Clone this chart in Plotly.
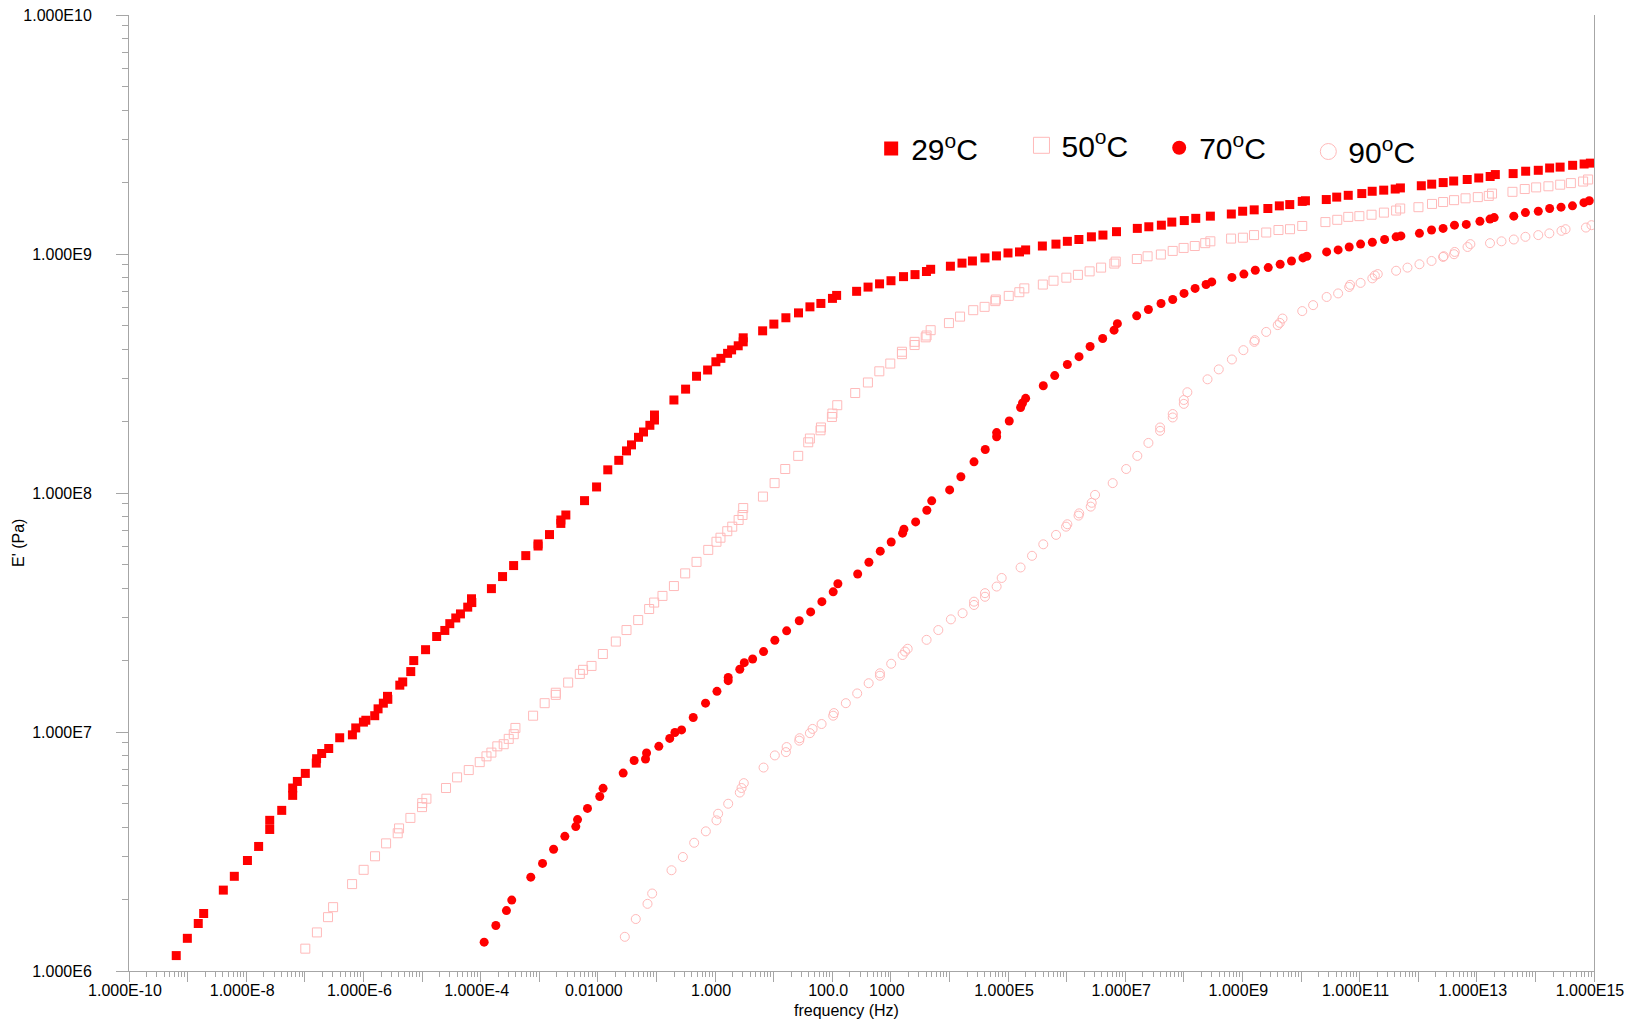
import plotly.graph_objects as go

# ---------------- data (frequency in Hz, storage modulus E' in Pa) ----------------
freq_29 = [
    6.4e-10, 9.9e-10, 1.52e-9, 1.88e-9, 4.07e-9, 6.27e-9, 1.05e-8, 1.63e-8, 2.52e-8, 2.52e-8,
    4.04e-8, 6.21e-8, 6.21e-8, 7.46e-8, 1.02e-7, 1.57e-7, 1.59e-7, 1.94e-7, 2.56e-7, 3.94e-7,
    6.49e-7, 7.40e-7, 1.00e-6, 1.10e-6, 1.56e-6, 1.78e-6, 2.19e-6, 2.61e-6, 2.58e-6, 4.18e-6,
    4.69e-6, 6.43e-6, 7.23e-6, 1.15e-5, 1.78e-5, 2.45e-5, 2.98e-5, 3.77e-5, 4.53e-5, 6.03e-5,
    7.08e-5, 7.00e-5, 1.53e-4, 2.37e-4, 3.66e-4, 5.90e-4, 9.57e-4, 9.57e-4, 1.50e-3, 2.34e-3,
    2.34e-3, 2.85e-3, 5.94e-3, 9.53e-3, 1.48e-2, 2.28e-2, 3.09e-2, 3.76e-2, 4.95e-2, 6.03e-2,
    7.74e-2, 9.27e-2, 9.27e-2, 0.199, 0.315, 0.484, 0.748, 1.035, 1.26, 1.64,
    1.92, 2.49, 3.03, 3.03, 6.50, 10.1, 16.2, 26.6, 41.7, 64.1,
    101, 119, 261, 409, 643, 1007, 1650, 2590, 4060, 4790,
    1.04e4, 1.64e4, 2.47e4, 4.05e4, 6.35e4, 1.00e5, 1.57e5, 2.00e5, 3.86e5, 6.58e5,
    1.03e6, 1.62e6, 2.65e6, 4.17e6, 7.10e6, 1.61e7, 2.53e7, 4.14e7, 6.24e7, 1.02e8,
    1.60e8, 2.84e8, 6.47e8, 1.01e9, 1.59e9, 2.72e9, 4.27e9, 6.43e9, 1.05e10, 1.19e10,
    2.70e10, 4.07e10, 6.40e10, 1.09e11, 1.64e11, 2.58e11, 4.05e11, 4.97e11, 1.13e12, 1.70e12,
    2.67e12, 4.03e12, 6.86e12, 1.08e13, 1.69e13, 2.07e13, 4.17e13, 6.82e13, 1.12e14, 1.75e14,
    2.64e14, 4.32e14, 6.78e14, 8.67e14,
]
modulus_29 = [
    1.16e6, 1.37e6, 1.58e6, 1.74e6, 2.18e6, 2.49e6, 2.90e6, 3.32e6, 3.91e6, 4.27e6,
    4.70e6, 5.43e6, 5.83e6, 6.21e6, 6.71e6, 7.41e6, 7.73e6, 8.13e6, 8.53e6, 9.46e6,
    9.73e6, 1.04e7, 1.10e7, 1.12e7, 1.17e7, 1.25e7, 1.32e7, 1.37e7, 1.41e7, 1.57e7,
    1.62e7, 1.79e7, 1.99e7, 2.21e7, 2.51e7, 2.66e7, 2.84e7, 3.00e7, 3.12e7, 3.33e7,
    3.48e7, 3.61e7, 3.98e7, 4.47e7, 4.97e7, 5.47e7, 6.00e7, 6.12e7, 6.70e7, 7.46e7,
    7.71e7, 8.09e7, 9.29e7, 1.06e8, 1.25e8, 1.37e8, 1.50e8, 1.59e8, 1.71e8, 1.80e8,
    1.92e8, 2.02e8, 2.12e8, 2.45e8, 2.72e8, 3.08e8, 3.27e8, 3.54e8, 3.66e8, 3.84e8,
    3.97e8, 4.13e8, 4.29e8, 4.46e8, 4.77e8, 5.09e8, 5.41e8, 5.67e8, 6.01e8, 6.21e8,
    6.52e8, 6.71e8, 6.98e8, 7.27e8, 7.50e8, 7.73e8, 8.04e8, 8.20e8, 8.45e8, 8.63e8,
    8.89e8, 9.16e8, 9.35e8, 9.63e8, 9.82e8, 1.01e9, 1.02e9, 1.04e9, 1.08e9, 1.10e9,
    1.13e9, 1.15e9, 1.18e9, 1.20e9, 1.24e9, 1.28e9, 1.30e9, 1.32e9, 1.36e9, 1.38e9,
    1.41e9, 1.44e9, 1.47e9, 1.51e9, 1.53e9, 1.55e9, 1.59e9, 1.61e9, 1.66e9, 1.67e9,
    1.69e9, 1.73e9, 1.76e9, 1.79e9, 1.83e9, 1.85e9, 1.87e9, 1.89e9, 1.93e9, 1.96e9,
    1.99e9, 2.02e9, 2.05e9, 2.08e9, 2.11e9, 2.15e9, 2.17e9, 2.22e9, 2.24e9, 2.29e9,
    2.31e9, 2.35e9, 2.38e9, 2.40e9,
]

freq_50 = [
    1.02e-7, 1.61e-7, 2.49e-7, 3.04e-7, 6.41e-7, 1.01e-6, 1.58e-6, 2.44e-6, 3.85e-6, 4.06e-6,
    6.34e-6, 1.00e-5, 1.01e-5, 1.19e-5, 2.57e-5, 3.97e-5, 6.28e-5, 9.66e-5, 1.26e-4, 1.53e-4,
    1.93e-4, 2.48e-4, 3.02e-4, 3.68e-4, 3.93e-4, 7.87e-4, 1.24e-3, 1.92e-3, 1.92e-3, 3.12e-3,
    4.93e-3, 5.61e-3, 7.82e-3, 1.22e-2, 2.03e-2, 3.09e-2, 4.89e-2, 7.52e-2, 9.16e-2, 0.127,
    0.199, 0.310, 0.484, 0.767, 1.06, 1.24, 1.62, 1.97, 2.53, 2.95,
    3.03, 6.58, 10.4, 15.8, 26.3, 39.0, 41.6, 63.2, 64.3, 98.9,
    101, 122, 247, 407, 637, 980, 1550, 1550, 2550, 2550,
    3940, 4080, 4790, 9820, 1.52e4, 2.55e4, 3.99e4, 6.07e4, 6.20e4, 1.03e5,
    1.56e5, 1.90e5, 3.93e5, 5.98e5, 9.91e5, 1.56e6, 2.47e6, 3.88e6, 6.53e6, 6.90e6,
    1.58e7, 2.41e7, 4.06e7, 6.46e7, 9.93e7, 1.54e8, 2.32e8, 2.84e8, 6.41e8, 1.02e9,
    1.58e9, 2.55e9, 4.13e9, 6.49e9, 1.05e10, 2.61e10, 4.16e10, 6.41e10, 9.91e10, 1.60e11,
    2.60e11, 4.20e11, 4.93e11, 1.01e12, 1.72e12, 2.66e12, 4.09e12, 6.43e12, 1.04e13, 1.60e13,
    1.82e13, 4.06e13, 6.58e13, 1.03e14, 1.67e14, 2.65e14, 4.03e14, 6.52e14, 7.93e14,
]
modulus_50 = [
    1.24e6, 1.45e6, 1.68e6, 1.85e6, 2.31e6, 2.65e6, 3.02e6, 3.42e6, 3.77e6, 3.95e6,
    4.37e6, 4.85e6, 5.04e6, 5.26e6, 5.83e6, 6.46e6, 6.93e6, 7.48e6, 7.91e6, 8.20e6,
    8.71e6, 8.89e6, 9.36e6, 9.79e6, 1.04e7, 1.17e7, 1.32e7, 1.43e7, 1.46e7, 1.61e7,
    1.75e7, 1.82e7, 1.89e7, 2.12e7, 2.39e7, 2.67e7, 2.94e7, 3.27e7, 3.48e7, 3.71e7,
    4.08e7, 4.61e7, 5.15e7, 5.78e7, 6.25e7, 6.50e7, 6.92e7, 7.23e7, 7.71e7, 8.09e7,
    8.65e7, 9.66e7, 1.10e8, 1.26e8, 1.43e8, 1.63e8, 1.69e8, 1.83e8, 1.88e8, 2.08e8,
    2.15e8, 2.33e8, 2.62e8, 2.90e8, 3.23e8, 3.48e8, 3.81e8, 3.90e8, 4.16e8, 4.29e8,
    4.48e8, 4.56e8, 4.80e8, 5.14e8, 5.47e8, 5.82e8, 6.01e8, 6.35e8, 6.45e8, 6.68e8,
    6.92e8, 7.18e8, 7.45e8, 7.73e8, 7.96e8, 8.18e8, 8.46e8, 8.77e8, 9.12e8, 9.29e8,
    9.53e8, 9.78e8, 9.95e8, 1.03e9, 1.06e9, 1.08e9, 1.11e9, 1.13e9, 1.16e9, 1.17e9,
    1.20e9, 1.23e9, 1.26e9, 1.27e9, 1.31e9, 1.36e9, 1.39e9, 1.43e9, 1.44e9, 1.46e9,
    1.49e9, 1.52e9, 1.55e9, 1.57e9, 1.62e9, 1.65e9, 1.68e9, 1.71e9, 1.73e9, 1.75e9,
    1.79e9, 1.82e9, 1.87e9, 1.90e9, 1.92e9, 1.95e9, 1.98e9, 2.01e9, 2.05e9,
]

freq_70 = [
    1.15e-4, 1.82e-4, 2.76e-4, 3.40e-4, 7.18e-4, 1.14e-3, 1.76e-3, 2.74e-3, 4.21e-3, 4.51e-3,
    6.67e-3, 1.08e-2, 1.23e-2, 2.71e-2, 4.17e-2, 6.52e-2, 6.79e-2, 0.110, 0.169, 0.207,
    0.269, 0.425, 0.689, 1.08, 1.68, 1.68, 2.65, 3.16, 4.39, 6.74,
    10.5, 16.7, 27.4, 42.9, 66.7, 104, 125, 272, 423, 661,
    1016, 1590, 1675, 2655, 4120, 4990, 1.01e4, 1.57e4, 2.63e4, 4.09e4,
    6.40e4, 6.40e4, 1.05e5, 1.64e5, 1.77e5, 2.00e5, 4.00e5, 6.27e5, 1.03e6, 1.63e6,
    2.52e6, 4.13e6, 6.46e6, 7.36e6, 1.57e7, 2.49e7, 4.09e7, 6.47e7, 1.01e8, 1.56e8,
    2.40e8, 3.00e8, 6.62e8, 1.06e9, 1.66e9, 2.76e9, 4.41e9, 6.89e9, 1.08e10, 1.26e10,
    2.74e10, 4.30e10, 6.64e10, 1.04e11, 1.65e11, 2.67e11, 4.20e11, 5.07e11, 1.05e12, 1.69e12,
    2.66e12, 4.16e12, 6.62e12, 1.13e13, 1.68e13, 1.98e13, 4.28e13, 6.76e13, 1.12e14, 1.75e14,
    2.74e14, 4.29e14, 6.73e14, 8.30e14,
]
modulus_70 = [
    1.32e6, 1.55e6, 1.79e6, 1.98e6, 2.47e6, 2.82e6, 3.23e6, 3.66e6, 4.02e6, 4.30e6,
    4.79e6, 5.37e6, 5.81e6, 6.73e6, 7.60e6, 7.71e6, 8.17e6, 8.71e6, 9.40e6, 9.95e6,
    1.02e7, 1.15e7, 1.32e7, 1.48e7, 1.64e7, 1.69e7, 1.83e7, 1.95e7, 2.02e7, 2.17e7,
    2.42e7, 2.65e7, 2.92e7, 3.18e7, 3.51e7, 3.86e7, 4.17e7, 4.58e7, 5.13e7, 5.71e7,
    6.24e7, 6.79e7, 7.05e7, 7.57e7, 8.47e7, 9.27e7, 1.03e8, 1.17e8, 1.35e8, 1.52e8,
    1.72e8, 1.79e8, 2.00e8, 2.28e8, 2.38e8, 2.49e8, 2.81e8, 3.10e8, 3.45e8, 3.72e8,
    4.10e8, 4.43e8, 4.80e8, 5.11e8, 5.51e8, 5.86e8, 6.21e8, 6.45e8, 6.84e8, 7.18e8,
    7.45e8, 7.64e8, 7.98e8, 8.24e8, 8.55e8, 8.77e8, 9.06e8, 9.35e8, 9.63e8, 9.79e8,
    1.02e9, 1.04e9, 1.07e9, 1.10e9, 1.12e9, 1.15e9, 1.18e9, 1.19e9, 1.22e9, 1.26e9,
    1.28e9, 1.32e9, 1.33e9, 1.37e9, 1.40e9, 1.42e9, 1.44e9, 1.49e9, 1.51e9, 1.55e9,
    1.57e9, 1.59e9, 1.64e9, 1.67e9,
]

freq_90 = [
    2.89e-2, 4.45e-2, 7.05e-2, 8.47e-2, 0.181, 0.283, 0.441, 0.698, 1.06, 1.13,
    1.68, 2.65, 2.84, 3.10, 6.74, 10.5, 16.2, 16.7, 27.4, 27.8,
    41.6, 46.3, 65.9, 104, 107, 171, 267, 419, 653, 653,
    1016, 1590, 1750, 1940, 4080, 6470, 1.06e4, 1.68e4, 2.63e4, 2.63e4,
    4.05e4, 4.05e4, 6.40e4, 7.80e4, 1.64e5, 2.57e5, 4.00e5, 6.61e5, 9.79e5, 1.03e6,
    1.60e6, 1.64e6, 2.58e6, 2.68e6, 3.06e6, 6.12e6, 1.04e7, 1.61e7, 2.49e7, 3.94e7,
    3.94e7, 6.47e7, 6.47e7, 1.00e8, 1.00e8, 1.15e8, 2.54e8, 3.95e8, 6.62e8, 1.04e9,
    1.60e9, 1.63e9, 2.55e9, 4.01e9, 4.34e9, 4.84e9, 1.05e10, 1.61e10, 2.74e10, 4.30e10,
    6.64e10, 6.90e10, 1.04e11, 1.65e11, 1.82e11, 2.04e11, 4.20e11, 6.56e11, 1.05e12, 1.69e12,
    2.66e12, 2.73e12, 4.09e12, 4.20e12, 6.95e12, 7.76e12, 1.68e13, 2.64e13, 4.28e13, 6.76e13,
    1.12e14, 1.73e14, 2.79e14, 3.27e14, 7.28e14, 9.06e14,
]
modulus_90 = [
    1.39e6, 1.65e6, 1.91e6, 2.11e6, 2.64e6, 3.00e6, 3.44e6, 3.84e6, 4.27e6, 4.55e6,
    5.01e6, 5.58e6, 5.83e6, 6.11e6, 7.10e6, 7.98e6, 8.24e6, 8.65e6, 9.20e6, 9.42e6,
    9.89e6, 1.03e7, 1.08e7, 1.17e7, 1.20e7, 1.32e7, 1.45e7, 1.60e7, 1.72e7, 1.76e7,
    1.93e7, 2.10e7, 2.17e7, 2.23e7, 2.43e7, 2.67e7, 2.96e7, 3.14e7, 3.40e7, 3.51e7,
    3.68e7, 3.81e7, 4.06e7, 4.41e7, 4.88e7, 5.46e7, 6.10e7, 6.68e7, 7.23e7, 7.40e7,
    8.04e7, 8.22e7, 8.77e7, 9.10e7, 9.82e7, 1.10e8, 1.26e8, 1.43e8, 1.62e8, 1.82e8,
    1.88e8, 2.07e8, 2.14e8, 2.36e8, 2.45e8, 2.64e8, 2.99e8, 3.29e8, 3.62e8, 3.96e8,
    4.29e8, 4.36e8, 4.72e8, 5.04e8, 5.15e8, 5.37e8, 5.77e8, 6.11e8, 6.61e8, 6.84e8,
    7.28e8, 7.43e8, 7.57e8, 7.91e8, 8.13e8, 8.24e8, 8.51e8, 8.77e8, 9.06e8, 9.35e8,
    9.72e8, 9.79e8, 9.98e8, 1.02e9, 1.07e9, 1.10e9, 1.11e9, 1.13e9, 1.15e9, 1.18e9,
    1.20e9, 1.22e9, 1.25e9, 1.27e9, 1.29e9, 1.32e9,
]

series_names = ["29<sup>o</sup>C", "50<sup>o</sup>C", "70<sup>o</sup>C", "90<sup>o</sup>C"]

x_tick_vals = [10.0 ** k for k in range(-10, 16)]
x_tick_text = ["1.000E-10", "", "1.000E-8", "", "1.000E-6", "", "1.000E-4", "", "0.01000", "",
               "1.000", "", "100.0", "1000", "", "1.000E5", "", "1.000E7", "", "1.000E9", "",
               "1.000E11", "", "1.000E13", "", "1.000E15"]
y_tick_vals = [1e6, 1e7, 1e8, 1e9, 1e10]
y_tick_text = ["1.000E6", "1.000E7", "1.000E8", "1.000E9", "1.000E10"]

all_data = [(freq_29, modulus_29), (freq_50, modulus_50), (freq_70, modulus_70), (freq_90, modulus_90)]
for a, b in all_data:
    assert len(a) == len(b), (len(a), len(b))

# ---------------- styling ----------------
RED = "#FF0000"
PINK = "#FFBABA"
FONT = "Arial, 'Liberation Sans', sans-serif"
AXIS = "#A6A6A6"

data_markers = [
    dict(symbol="square", color=RED, size=9, line=dict(width=0)),
    dict(symbol="square-open", color=PINK, size=9, line=dict(width=1)),
    dict(symbol="circle", color=RED, size=9, line=dict(width=0)),
    dict(symbol="circle-open", color=PINK, size=9, line=dict(width=1)),
]
legend_markers = [
    dict(symbol="square", color=RED, size=14, line=dict(width=0)),
    dict(symbol="square-open", color=PINK, size=18, line=dict(width=1)),
    dict(symbol="circle", color=RED, size=14, line=dict(width=0)),
    dict(symbol="circle-open", color=PINK, size=18, line=dict(width=1)),
]
legend_ids = ["legend", "legend2", "legend3", "legend4"]
legend_pos = [(0.5066, 0.8876), (0.6092, 0.8909), (0.7032, 0.8883), (0.8050, 0.8844)]

fig = go.Figure()
for (fx, ey), mk, name in zip(all_data, data_markers, series_names):
    fig.add_trace(go.Scatter(x=fx, y=ey, mode="markers", marker=mk, name=name,
                             showlegend=False, hoverinfo="x+y"))
for mk, name, lid in zip(legend_markers, series_names, legend_ids):
    fig.add_trace(go.Scatter(x=[None], y=[None], mode="markers", marker=mk, name=name,
                             showlegend=True, legend=lid))

minor_vals_x = [m * 10.0 ** k for k in range(-10, 15) for m in range(2, 10)]
minor_vals_y = [m * 10.0 ** k for k in range(6, 10) for m in range(2, 10)]

legend_layout = {}
for lid, (lx, ly) in zip(legend_ids, legend_pos):
    legend_layout[lid] = dict(
        orientation="h", x=lx, y=ly, xanchor="left", yanchor="top",
        font=dict(family=FONT, size=30, color="#000000"),
        bgcolor="rgba(0,0,0,0)", borderwidth=0,
        itemclick=False, itemdoubleclick=False,
    )

fig.update_layout(
    width=1628, height=1017,
    margin=dict(l=121, r=42, t=7, b=54, pad=0, autoexpand=False),
    paper_bgcolor="white", plot_bgcolor="white",
    font=dict(family=FONT, size=16, color="#000000"),
    showlegend=True,
    xaxis=dict(
        type="log", range=[-10, 15], automargin=False,
        showgrid=False, zeroline=False,
        showline=True, linecolor=AXIS, linewidth=1, mirror=False,
        ticks="outside", ticklen=10, tickwidth=1, tickcolor=AXIS,
        tickmode="array", tickvals=x_tick_vals, ticktext=x_tick_text,
        tickfont=dict(family=FONT, size=16, color="#000000"),
        ticklabelstandoff=-5, ticklabelshift=-4, ticklabeloverflow="allow",
        minor=dict(tickmode="array", tickvals=minor_vals_x, ticks="outside",
                   ticklen=5, tickwidth=1, tickcolor=AXIS, showgrid=False),
    ),
    yaxis=dict(
        type="log", range=[6, 10], automargin=False,
        showgrid=False, zeroline=False,
        showline=True, linecolor=AXIS, linewidth=1, mirror=True,
        ticks="outside", ticklen=12, tickwidth=1, tickcolor=AXIS,
        tickmode="array", tickvals=y_tick_vals, ticktext=y_tick_text,
        tickfont=dict(family=FONT, size=16, color="#000000"),
        ticklabelstandoff=21, ticklabeloverflow="allow",
        minor=dict(tickmode="array", tickvals=minor_vals_y, ticks="outside",
                   ticklen=6, tickwidth=1, tickcolor=AXIS, showgrid=False),
    ),
    annotations=[
        dict(text="frequency (Hz)", xref="paper", yref="paper", x=0.4901, y=-0.0414,
             xanchor="center", yanchor="middle", showarrow=False,
             font=dict(family=FONT, size=16, color="#000000")),
        dict(text="E' (Pa)", xref="paper", yref="paper", x=-0.0751, y=0.4477,
             xanchor="center", yanchor="middle", showarrow=False, textangle=-90,
             font=dict(family=FONT, size=16, color="#000000")),
    ],
    **legend_layout,
)

fig.write_html("out.html")
